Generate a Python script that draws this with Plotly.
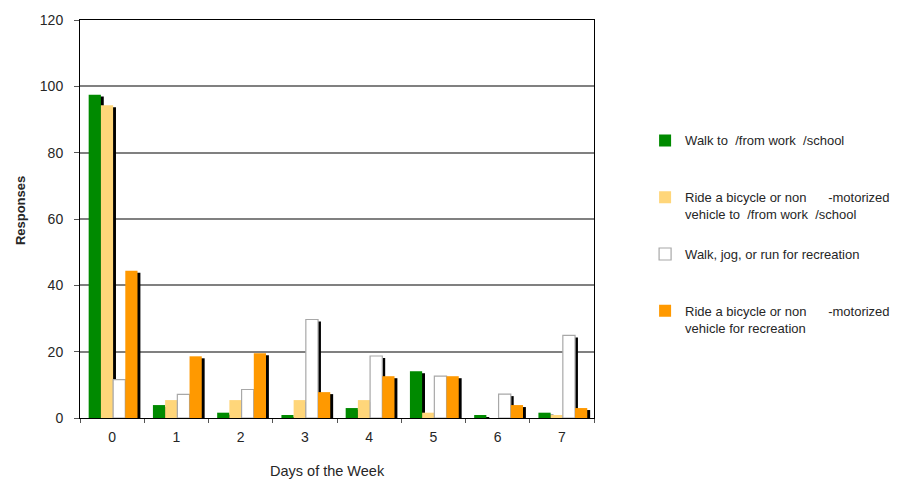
import plotly.graph_objects as go

# Days per week on which each activity was reported
days = ["0", "1", "2", "3", "4", "5", "6", "7"]

walk_commute = [97.5, 3.9, 1.6, 0.9, 3.0, 14.1, 0.9, 1.6]
bike_commute = [94.3, 5.4, 5.4, 5.4, 5.4, 1.6, 0.0, 0.9]
walk_recreation = [11.6, 7.1, 8.6, 29.7, 18.7, 12.6, 7.2, 24.9]
bike_recreation = [44.4, 18.6, 19.5, 7.8, 12.6, 12.6, 3.9, 3.0]

NB = "\u00a0"
series_labels = [
    f"Walk to {NB}/from work {NB}/school<br>{NB}",
    f"Ride a bicycle or non {NB * 5}-motorized<br>vehicle to {NB}/from work {NB}/school",
    f"Walk, jog, or run for recreation<br>{NB}",
    f"Ride a bicycle or non {NB * 5}-motorized<br>vehicle for recreation",
]
series_values = [walk_commute, bike_commute, walk_recreation, bike_recreation]

y_ticks = [0, 20, 40, 60, 80, 100, 120]

# styling
fills = ["#008A00", "#FFD67A", "#FFFFFF", "#FF9900"]
outlines = ["#008A00", "#FFD67A", "#A8A8A8", "#FF9900"]
BAR_W = 0.19
FIRST_OFFSET = -0.365
SHADOW_DX = 0.045
SHADOW_DROP = 0.6
FONT = "Liberation Sans, Arial, sans-serif"
TEXT = "#262626"

fig = go.Figure()

# drop shadows go underneath every bar
for i, vals in enumerate(series_values):
    fig.add_trace(go.Bar(
        x=days, y=vals, base=-SHADOW_DROP,
        width=BAR_W, offset=FIRST_OFFSET + i * BAR_W + SHADOW_DX,
        marker=dict(color="#000000", line=dict(width=0)),
        showlegend=False, hoverinfo="skip", legendgroup="shadow",
    ))

for i, (name, vals) in enumerate(zip(series_labels, series_values)):
    fig.add_trace(go.Bar(
        x=days, y=vals, name=name, legendgroup=f"g{i}",
        width=BAR_W, offset=FIRST_OFFSET + i * BAR_W,
        marker=dict(color=fills[i], line=dict(color=outlines[i], width=1.2 if i == 2 else 0)),
    ))

fig.update_layout(
    width=907, height=481, autosize=False,
    margin=dict(l=80, r=304, t=18, b=63),
    paper_bgcolor="white", plot_bgcolor="white",
    barmode="overlay",
    font=dict(family=FONT, size=14, color=TEXT),
    xaxis=dict(
        type="category", range=[-0.5, 7.5],
        tickson="boundaries", ticks="outside", ticklen=4, tickcolor="#555555",
        showline=True, linecolor="#000000", linewidth=1, mirror=True,
        showgrid=False, ticklabelstandoff=6,
        tickfont=dict(size=14, color=TEXT),
    ),
    yaxis=dict(
        range=[0, 120], tickvals=y_ticks,
        ticks="outside", ticklen=5, tickcolor="#555555",
        showline=True, linecolor="#000000", linewidth=1, mirror=True,
        showgrid=True, gridcolor="#808080", gridwidth=1.5,
        zeroline=False, ticklabelstandoff=8,
        tickfont=dict(size=14, color=TEXT),
    ),
    legend=dict(
        x=1.0994, xanchor="left", y=0.735, yanchor="top",
        valign="top", tracegroupgap=20, traceorder="grouped",
        font=dict(family=FONT, size=13, color=TEXT),
        bgcolor="rgba(0,0,0,0)",
    ),
    shapes=[dict(type="line", xref="paper", x0=0, x1=1, yref="y", y0=60, y1=60,
                 line=dict(color="#000000", width=1.2), layer="below")],
    annotations=[
        dict(text="Days of the Week", xref="paper", yref="paper",
             x=0.482, y=-0.1325, xanchor="center", yanchor="middle",
             showarrow=False, font=dict(size=14.5, color=TEXT)),
        dict(text="<b>Responses</b>", xref="paper", yref="paper",
             x=-0.1166, y=0.52, xanchor="center", yanchor="middle", textangle=-90,
             showarrow=False, font=dict(size=13, color=TEXT)),
    ],
)

fig.write_html("out.html")
